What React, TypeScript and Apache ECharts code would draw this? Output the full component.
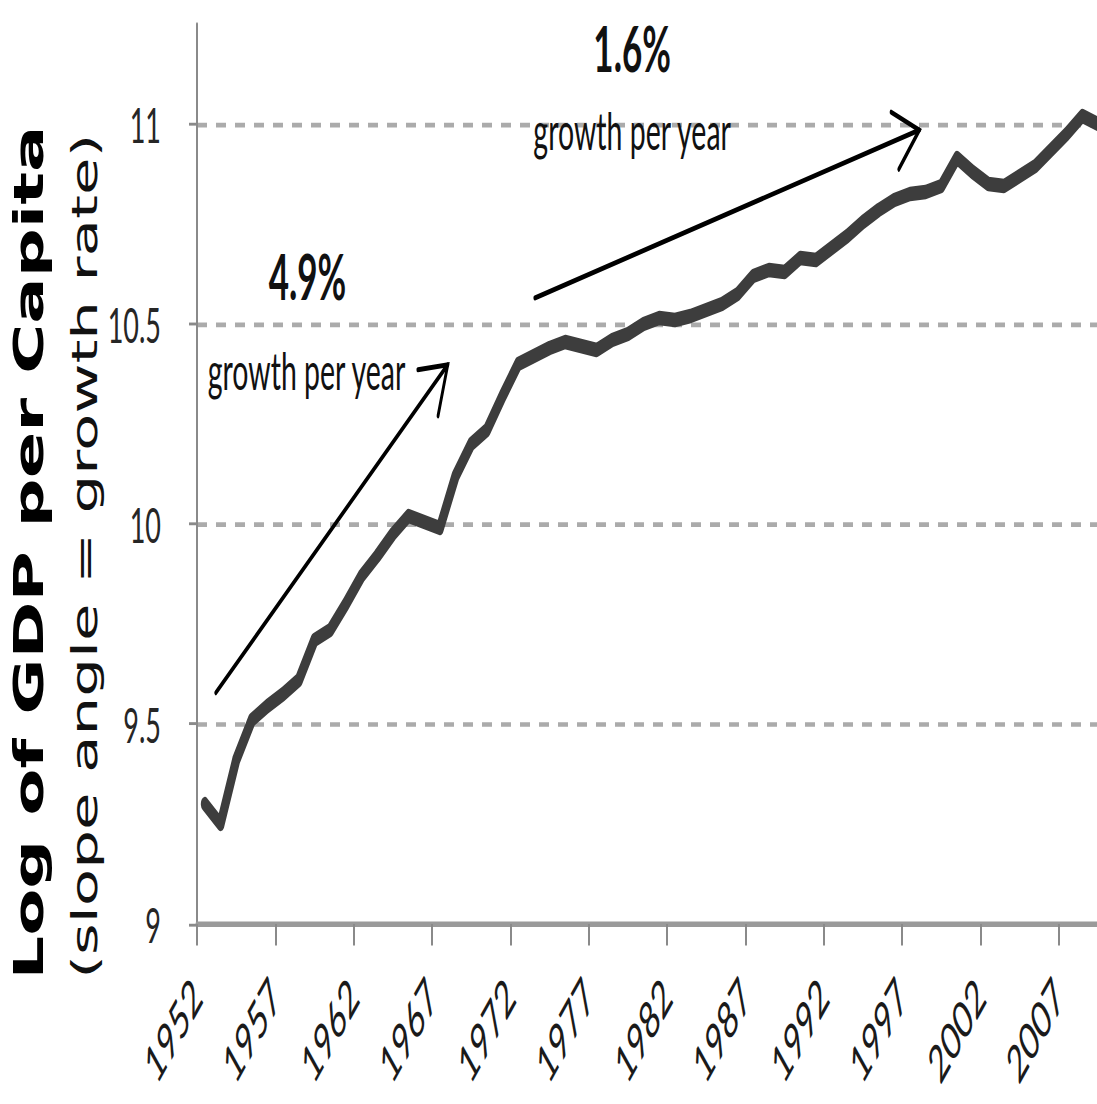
import React, { useEffect, useRef } from "react";
import * as echarts from "echarts";

// ---------- data ----------
const years = [
  "1952", "1953", "1954", "1955", "1956", "1957", "1958", "1959", "1960", "1961",
  "1962", "1963", "1964", "1965", "1966", "1967", "1968", "1969", "1970", "1971",
  "1972", "1973", "1974", "1975", "1976", "1977", "1978", "1979", "1980", "1981",
  "1982", "1983", "1984", "1985", "1986", "1987", "1988", "1989", "1990", "1991",
  "1992", "1993", "1994", "1995", "1996", "1997", "1998", "1999", "2000", "2001",
  "2002", "2003", "2004", "2005", "2006", "2007", "2008", "2009",
];

const logGdpPerCapita = [
  9.30, 9.25, 9.41, 9.51, 9.545, 9.575, 9.61, 9.71, 9.735, 9.80,
  9.87, 9.92, 9.975, 10.02, 10.005, 9.99, 10.12, 10.20, 10.235, 10.32,
  10.40, 10.42, 10.44, 10.455, 10.445, 10.435, 10.46, 10.475, 10.50, 10.515,
  10.51, 10.52, 10.535, 10.55, 10.575, 10.62, 10.635, 10.63, 10.665, 10.66,
  10.69, 10.72, 10.755, 10.785, 10.81, 10.825, 10.83, 10.845, 10.915, 10.88,
  10.85, 10.845, 10.87, 10.895, 10.935, 10.975, 11.02, 11.00,
];

const yTicks = [9, 9.5, 10, 10.5, 11];

// annotation arrows: [startIndex, startValue, endIndex, endValue]
const arrowEarly = [0.7, 9.578, 15.5, 10.398];
const arrowLate = [21.06, 10.565, 45.6, 10.985];

// annotation texts: label, category index, value
const noteLabels = ["4.9%", "growth per year", "1.6%", "growth per year"];
const noteIndex = [6.55, 6.49, 27.27, 27.27];
const noteValue = [10.62, 10.384, 11.19, 10.984];
const noteBold = [true, false, true, false];

const STRETCH = 1.8;
const W = 1097;
const H = 1104;

export default function App() {
  const ref = useRef<HTMLDivElement>(null);

  useEffect(() => {
    if (!ref.current) return;
    const chart = echarts.init(ref.current, undefined, { renderer: "svg" });
    const axisY = 924 / STRETCH;
    const topY = 24 / STRETCH;

    chart.setOption({
      animation: false,
      backgroundColor: "#ffffff",
      grid: {
        left: 197,
        top: topY,
        width: years.length * 15.67,
        height: axisY - topY,
        outerBoundsMode: "none",
        containLabel: false,
      },
      xAxis: {
        type: "category",
        data: years,
        boundaryGap: true,
        axisLine: { onZero: false, lineStyle: { color: "#9a9a9a", width: 3 } },
        axisTick: { show: true, interval: 4, length: 12, lineStyle: { color: "#8a8a8a", width: 2 } },
        axisLabel: {
          interval: 4,
          rotate: 45,
          margin: 26,
          padding: [0, 12, 0, 0],
          fontFamily: "Lato",
          fontSize: 29,
          color: "#1a1a1a",
        },
        splitLine: { show: false },
      },
      yAxis: {
        type: "value",
        min: 9,
        max: 11.25,
        interval: 0.5,
        axisLine: { show: true, onZero: false, lineStyle: { color: "#8a8a8a", width: 2 } },
        axisTick: { show: true, length: 8, customValues: yTicks, lineStyle: { color: "#8a8a8a", width: 1.6 } },
        axisLabel: {
          margin: 36,
          fontFamily: "Lato",
          fontSize: 27,
          color: "#262626",
          customValues: yTicks,
        },
        splitLine: {
          show: true,
          showMinLine: false,
          lineStyle: { type: [10, 9], color: "#ababab", width: 2.6 },
        },
      },
      series: [
        {
          type: "line",
          data: logGdpPerCapita,
          symbol: "none",
          showSymbol: false,
          clip: false,
          lineStyle: { color: "#3d3d3d", width: 8, join: "round", cap: "round" },
          z: 3,
        },
      ],
    });

    const px = (xi: number, yv: number) => {
      const i0 = Math.floor(xi);
      const f = xi - i0;
      const a = chart.convertToPixel({ gridIndex: 0 }, [i0, yv]) as number[];
      const b = chart.convertToPixel({ gridIndex: 0 }, [i0 + 1, yv]) as number[];
      return [a[0] + (b[0] - a[0]) * f, a[1]];
    };

    const arrowGraphics = (arr: number[]) => {
      const s = px(arr[0], arr[1]);
      const e = px(arr[2], arr[3]);
      const dx = e[0] - s[0];
      const dy = e[1] - s[1];
      const len = Math.hypot(dx, dy);
      const bx = -dx / len;
      const by = -dy / len;
      const ang = (33 * Math.PI) / 180;
      const armLen = 30;
      const rot = (t: number) => [
        e[0] + armLen * (bx * Math.cos(t) - by * Math.sin(t)),
        e[1] + armLen * (bx * Math.sin(t) + by * Math.cos(t)),
      ];
      const style = { stroke: "#000000", lineWidth: 2.8, fill: null, lineCap: "round", lineJoin: "miter" };
      return [
        { type: "line", silent: true, z: 10, shape: { x1: s[0], y1: s[1], x2: e[0], y2: e[1] }, style },
        { type: "polyline", silent: true, z: 10, shape: { points: [rot(ang), e, rot(-ang)] }, style },
      ];
    };

    const texts = noteLabels.map((t, i) => {
      const p = px(noteIndex[i], noteValue[i]);
      const font = noteBold[i] ? "bold 35px Lato" : "28.5px Lato";
      return {
        type: "text",
        silent: true,
        z: 10,
        x: p[0],
        y: p[1],
        style: {
          text: t,
          font,
          fill: "#111111",
          align: "center",
          verticalAlign: "middle",
          textAlign: "center",
          textVerticalAlign: "middle",
        },
      };
    });

    const titleMid = 307;
    const titles = [
      {
        type: "text",
        silent: true,
        x: 29,
        y: titleMid,
        rotation: Math.PI / 2,
        scaleX: 0.93,
        style: {
          text: "Log of GDP per Capita",
          font: "bold 41px 'DejaVu Sans'",
          fill: "#000000",
          align: "center",
          verticalAlign: "middle",
          textAlign: "center",
          textVerticalAlign: "middle",
        },
      },
      {
        type: "text",
        silent: true,
        x: 85,
        y: titleMid + 2,
        rotation: Math.PI / 2,
        scaleX: 0.97,
        style: {
          text: "(slope angle = growth rate)",
          font: "35px 'DejaVu Sans'",
          fill: "#111111",
          align: "center",
          verticalAlign: "middle",
          textAlign: "center",
          textVerticalAlign: "middle",
        },
      },
    ];

    chart.setOption({
      graphic: [...arrowGraphics(arrowEarly), ...arrowGraphics(arrowLate), ...texts, ...titles],
    });

    return () => chart.dispose();
  }, []);

  return (
    <div
      style={{
        position: "fixed",
        left: 0,
        top: 0,
        width: W,
        height: H,
        overflow: "hidden",
        background: "#ffffff",
      }}
    >
      <div
        ref={ref}
        style={{
          width: W,
          height: H / STRETCH,
          transform: `scaleY(${STRETCH})`,
          transformOrigin: "0 0",
        }}
      />
    </div>
  );
}
